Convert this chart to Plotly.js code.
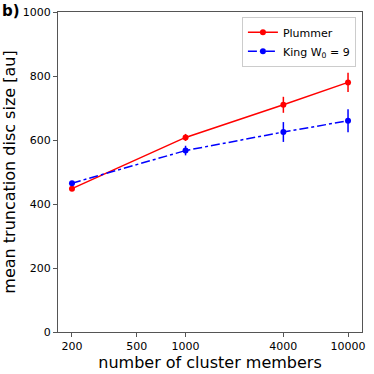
<!DOCTYPE html>
<html>
<head>
<meta charset="utf-8">
<script src="https://cdn.plot.ly/plotly-3.0.1.min.js"></script>
<style>html,body{margin:0;padding:0;background:#fff;}#chart{width:374px;height:374px;}</style>
</head>
<body>
<div id="chart"></div>
<script>
const members = [200, 1000, 4000, 10000];
const plummerSize = [448, 608, 710, 780];
const plummerErr = [6, 11, 25, 30];
const kingSize = [465, 567, 625, 660];
const kingErr = [6, 15, 31, 36];
const xTicks = [200, 500, 1000, 4000, 10000];
const yTicks = [0, 200, 400, 600, 800, 1000];

const font = "DejaVu Sans, sans-serif";
const traces = [
  {
    x: members, y: plummerSize, name: "Plummer", type: "scatter", mode: "lines+markers",
    line: {color: "#ff0000", width: 1.5},
    marker: {color: "#ff0000", size: 6},
    error_y: {type: "data", array: plummerErr, visible: true, color: "#ff0000", thickness: 1.5, width: 0}
  },
  {
    x: members, y: kingSize, name: "King W<sub>0</sub> = 9", type: "scatter", mode: "lines+markers",
    line: {color: "#0000ff", width: 1.5, dash: "dashdot"},
    marker: {color: "#0000ff", size: 6},
    error_y: {type: "data", array: kingErr, visible: true, color: "#0000ff", thickness: 1.5, width: 0}
  }
];
const layout = {
  width: 374, height: 374,
  margin: {l: 58, r: 12, t: 12, b: 42},
  paper_bgcolor: "#fff", plot_bgcolor: "#fff",
  font: {family: font, color: "#000", size: 11},
  showlegend: true,
  legend: {x: 0.98, xanchor: "right", y: 0.985, yanchor: "top",
    bgcolor: "#fff", bordercolor: "#cccccc", borderwidth: 1,
    itemwidth: 30,
    font: {family: font, size: 11, color: "#000"}, tracegroupgap: 0},
  xaxis: {
    type: "log", range: [2.215, 4.086],
    tickvals: xTicks, ticktext: xTicks.map(String),
    showgrid: false, zeroline: false,
    showline: true, mirror: true, linecolor: "#555", linewidth: 1,
    ticks: "outside", ticklen: 4, tickcolor: "#555",
    tickfont: {family: font, size: 11, color: "#000"},
    title: {text: "number of cluster members", font: {family: font, size: 16, color: "#000"}, standoff: 4}
  },
  yaxis: {
    range: [0, 1000], tickvals: yTicks,
    showgrid: false, zeroline: false,
    showline: true, mirror: true, linecolor: "#555", linewidth: 1,
    ticks: "outside", ticklen: 4, tickcolor: "#555",
    tickfont: {family: font, size: 11, color: "#000"},
    title: {text: "mean truncation disc size [au]", font: {family: font, size: 16, color: "#000"}, standoff: 6}
  },
  annotations: [{
    text: "<b>b)</b>", xref: "paper", yref: "paper", x: -0.19, y: 1.003,
    xanchor: "left", yanchor: "middle", showarrow: false,
    font: {family: font, size: 15, color: "#000"}
  }]
};
Plotly.newPlot("chart", traces, layout, {displayModeBar: false, staticPlot: true});
</script>
</body>
</html>
